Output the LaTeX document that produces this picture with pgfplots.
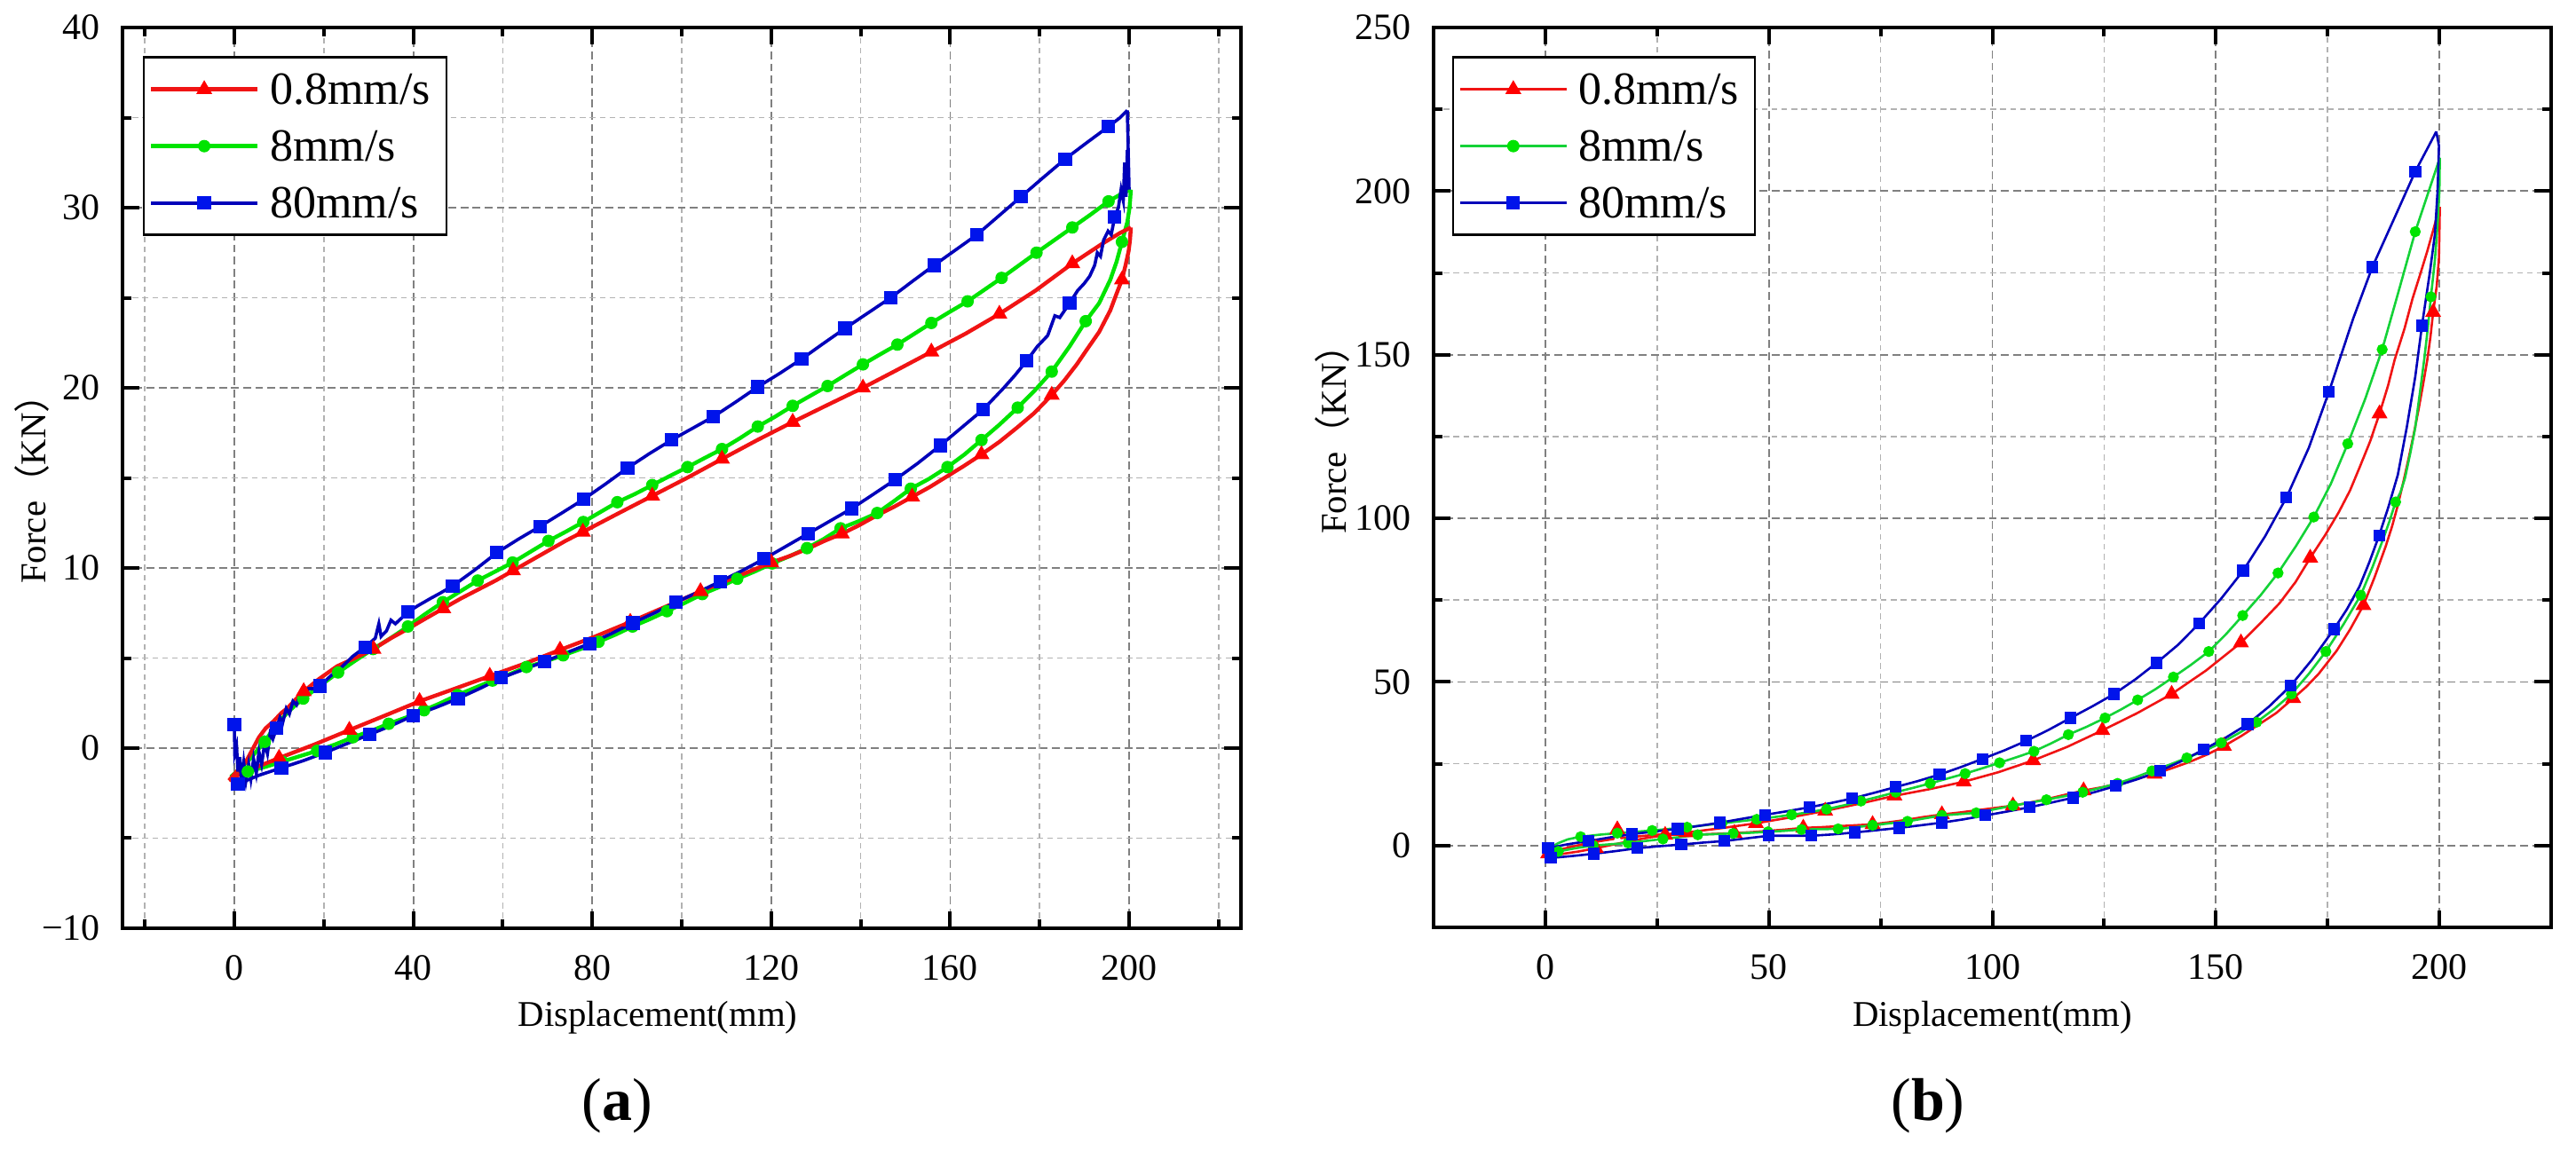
\documentclass[border=0pt]{standalone}
\usepackage{fontspec}
\setmainfont{Liberation Serif}
\newfontfamily\cjk{Noto Sans CJK SC}
\usepackage{pgfplots}
\pgfplotsset{compat=1.18}

\definecolor{cR}{RGB}{255,0,0}
\definecolor{cRl}{RGB}{240,20,20}
\definecolor{cG}{RGB}{0,228,0}
\definecolor{cGl}{RGB}{20,210,55}
\definecolor{cB}{RGB}{0,20,235}
\definecolor{cBl}{RGB}{0,0,185}

\pgfplotsset{
  panel/.style={
    scale only axis, anchor=south west,
    xmin=-25, xmax=225,
    axis line style={line width=1.1pt},
    every tick/.style={line width=1pt, black},
    major tick length=4.7pt, minor tick length=2.4pt,
    tick align=inside,
    grid=both,
    major grid style={dash pattern=on 2.2pt off 1.2pt, black!50, line width=0.45pt},
    minor grid style={dash pattern=on 1.6pt off 1.2pt, black!30, line width=0.4pt},
    tick label style={font=\fontsize{10.5}{12}\selectfont},
    xticklabel style={yshift=-4.2pt},
    yticklabel style={xshift=-2.75pt},
    label style={font=\fontsize{10.2}{12}\selectfont},
    ylabel={Force{\cjk （}KN{\cjk ）}},
    xlabel={Displacement(mm)},
    legend cell align=left,
    legend style={anchor=north west, draw=black, line width=0.6pt, fill=white,
      font=\fontsize{13}{15}\selectfont, inner xsep=1.5pt, inner ysep=1pt,
      row sep=0pt, column sep=0pt,
      nodes={inner xsep=3pt, inner ysep=0pt, text height=12.3pt, text depth=3.7pt}},
    legend image code/.code={\draw[mark repeat=2,mark phase=2,##1] plot coordinates {(0pt,0pt) (15pt,0pt) (30pt,0pt)};},
  },
  lRA/.style={cRl, line width=1.1pt, forget plot},
  lGA/.style={cG, line width=1.1pt, forget plot},
  lBA/.style={cBl, line width=0.9pt, forget plot},
  mRA/.style={only marks, mark=triangle*, mark size=2.3pt, cR, mark options={line width=0.3pt}, forget plot},
  mGA/.style={only marks, mark=*, mark size=1.6pt, cG, mark options={line width=0.3pt}, forget plot},
  mBA/.style={only marks, mark=square*, mark size=1.75pt, cB, mark options={line width=0.3pt}, forget plot},
  lRB/.style={cRl, line width=0.65pt, forget plot},
  lGB/.style={cGl, line width=0.65pt, forget plot},
  lBB/.style={cBl, line width=0.65pt, forget plot},
  mRB/.style={only marks, mark=triangle*, mark size=2.3pt, cR, mark options={line width=0.3pt}, forget plot},
  mGB/.style={only marks, mark=*, mark size=1.4pt, cG, mark options={line width=0.3pt}, forget plot},
  mBB/.style={only marks, mark=square*, mark size=1.5pt, cB, mark options={line width=0.3pt}, forget plot},
}

\begin{document}
\begin{tikzpicture}
\useasboundingbox (0,0) rectangle (725.5pt,324pt);

% ================= (a) =================
\begin{axis}[panel, at={(34.5pt,62.5pt)}, width=315pt, height=253.75pt,
  ymin=-10, ymax=40,
  xtick={0,40,80,120,160,200}, xticklabels={0,40,80,120,160,200},
  minor xtick={-20,20,60,100,140,180,220},
  ytick={-10,0,10,20,30,40}, yticklabels={−10,0,10,20,30,40},
  minor ytick={-5,5,15,25,35},
  xlabel style={at={(axis description cs:0.4786,-0.0995)}, anchor=center},
  ylabel style={at={(axis description cs:-0.081,0.4975)}, anchor=center},
  legend style={at={(axis description cs:0.018,0.968)}},
]
\addlegendimage{cRl, line width=1.1pt, mark=triangle*, mark size=2.3pt, mark options={cR, line width=0.3pt}}
\addlegendentry{0.8mm/s}
\addlegendimage{cG, line width=1.1pt, mark=*, mark size=1.6pt, mark options={cG, line width=0.3pt}}
\addlegendentry{8mm/s}
\addlegendimage{cBl, line width=1pt, mark=square*, mark size=1.75pt, mark options={cB, line width=0.3pt}}
\addlegendentry{80mm/s}

% green
\addplot[lGA] coordinates {(-0.8,-1.6) (1.5,-1.1) (3.5,-0.6) (5.2,-0.1) (6.8,0.35) (8.5,1.0) (10,1.45) (11.8,1.95) (13.5,2.35) (15.4,2.75) (19.1,3.45) (23.2,4.2) (27,4.85) (31,5.5) (34.9,6.1) (38.8,6.75) (42.7,7.45) (46.6,8.1) (50.5,8.7) (54.4,9.3) (58.3,9.8) (62.2,10.3) (66.2,10.9) (70.2,11.5) (74,12.0) (78,12.55) (81.8,13.1) (85.6,13.65) (89.5,14.1) (93.4,14.6) (97.3,15.1) (101.3,15.6) (105.1,16.1) (109,16.6) (113,17.2) (117,17.85) (120.9,18.4) (124.8,19.0) (128.7,19.55) (132.6,20.1) (136.5,20.7) (140.5,21.3) (144.3,21.85) (148.2,22.4) (152,23.0) (155.8,23.6) (159.8,24.2) (163.9,24.8) (167.7,25.45) (171.5,26.1) (175.4,26.8) (179.3,27.5) (183.3,28.2) (187.3,28.9) (191.3,29.6) (195.4,30.35) (198.5,30.8) (200.4,31.0)};
\addplot[mGA] coordinates {(6.8,0.35) (15.4,2.75) (23.2,4.2) (31,5.5) (38.8,6.75) (46.6,8.1) (54.4,9.3) (62.2,10.3) (70.2,11.5) (78,12.55) (85.6,13.65) (93.4,14.6) (101.3,15.6) (109,16.6) (117,17.85) (124.8,19.0) (132.6,20.1) (140.5,21.3) (148.2,22.4) (155.8,23.6) (163.9,24.8) (171.5,26.1) (179.3,27.5) (187.3,28.9) (195.4,30.35)};
\addplot[lGA] coordinates {(200.4,31.0) (200.1,30.0) (199.6,29.2) (198.4,28.1) (197.2,27.0) (195.8,26.0) (193.3,24.7) (190.3,23.7) (188.5,23.0) (186.7,22.3) (182.7,20.9) (178.9,19.85) (175.1,18.9) (171,17.95) (167,17.1) (163.2,16.3) (159.4,15.6) (155.3,14.95) (151.2,14.4) (147.4,13.7) (143.7,13.05) (139.6,12.6) (135.5,12.2) (131.7,11.6) (128,11.1) (124.1,10.65) (120.2,10.25) (116.3,9.8) (112.4,9.4) (108.5,8.95) (104.6,8.55) (100.6,8.05) (96.7,7.6) (92.8,7.15) (89,6.75) (85.2,6.3) (81.4,5.9) (77.4,5.5) (73.5,5.15) (69.4,4.8) (65.3,4.5) (61.5,4.1) (57.7,3.75) (53.8,3.35) (49.9,2.95) (46.1,2.5) (42.4,2.1) (38.4,1.7) (34.5,1.35) (30.5,0.95) (26.5,0.6) (22.5,0.2) (18.5,-0.15) (14.6,-0.45) (10.7,-0.75) (6.8,-1.05) (3,-1.3) (-0.8,-1.6)};
\addplot[mGA] coordinates {(198.4,28.1) (190.3,23.7) (182.7,20.9) (175.1,18.9) (167,17.1) (159.4,15.6) (151.2,14.4) (143.7,13.05) (135.5,12.2) (128,11.1) (120.2,10.25) (112.4,9.4) (104.6,8.55) (96.7,7.6) (89,6.75) (81.4,5.9) (73.5,5.15) (65.3,4.5) (57.7,3.75) (49.9,2.95) (42.4,2.1) (34.5,1.35) (26.5,0.6) (18.5,-0.15) (10.7,-0.75) (3,-1.3)};

% red
\addplot[lRA] coordinates {(-1.2,-1.8) (0.5,-1.3) (2.5,-0.8) (4,-0.1) (5.5,0.6) (7,1.1) (8.8,1.5) (10.5,1.95) (11.8,2.2) (13.5,2.65) (15.5,3.15) (19,3.85) (23,4.55) (27,5.0) (31.1,5.5) (35,6.1) (39,6.65) (42.8,7.2) (46.7,7.75) (50.6,8.3) (54.5,8.8) (58.4,9.3) (62.3,9.85) (66.2,10.4) (70.1,10.95) (74,11.5) (77.9,12.0) (85.6,13.0) (93.4,14.0) (101.2,15.0) (109,16.05) (116.9,17.1) (124.8,18.1) (132.6,19.05) (140.5,20.0) (148.2,21.0) (155.8,22.0) (163.4,23.0) (171,24.1) (179.1,25.4) (187.3,26.9) (194,28.0) (198,28.6) (200.4,28.9)};
\addplot[mRA] coordinates {(15.5,3.15) (31.1,5.5) (46.7,7.75) (62.3,9.85) (77.9,12.0) (93.4,14.0) (109,16.05) (124.8,18.1) (140.5,20.0) (155.8,22.0) (171,24.1) (187.3,26.9)};
\addplot[lRA] coordinates {(200.4,28.9) (200.2,28.2) (199.9,27.6) (199.2,26.8) (198.4,26.0) (197,25.1) (195.8,24.3) (193.3,23.1) (190.5,22.1) (188.3,21.3) (185.5,20.4) (182.7,19.6) (178.8,18.6) (175,17.8) (171,17.0) (167,16.3) (163,15.65) (159.4,15.1) (155.5,14.5) (151.5,13.95) (147.5,13.4) (143.5,12.9) (139.5,12.35) (135.8,11.9) (131.9,11.5) (128,11.05) (124,10.65) (120,10.3) (112.1,9.5) (104.2,8.7) (96.4,7.85) (88.5,7.0) (80.7,6.2) (72.8,5.45) (65,4.7) (57.1,4.0) (49.3,3.3) (41.4,2.6) (33.6,1.8) (25.7,1.0) (17.9,0.2) (10.0,-0.55) (6,-0.95) (2.3,-1.3) (-1.2,-1.8)};
\addplot[mRA] coordinates {(198.4,26.0) (182.7,19.6) (167,16.3) (151.5,13.95) (135.8,11.9) (120,10.3) (104.2,8.7) (88.5,7.0) (72.8,5.45) (57.1,4.0) (41.4,2.6) (25.7,1.0) (10.0,-0.55)};

% blue
\addplot[lBA] coordinates {(0,1.3) (0.1,-0.3) (0.5,0.1) (0.8,-1.3) (1.2,-0.5) (1.6,-1.9) (2.1,-0.8) (2.6,-1.8) (3.2,-0.9) (3.7,-1.7) (4.3,-0.6) (4.9,-1.4) (5.5,-0.2) (6.1,-0.9) (6.8,0.3) (7.4,-0.3) (8.0,0.8) (8.6,0.5) (9.4,1.1) (10.2,1.7) (10.8,1.4) (11.6,2.2) (12.3,1.9) (13.1,2.6) (13.9,2.4) (14.8,3.0) (15.7,2.8) (16.6,3.3) (17.8,3.3) (19.1,3.45) (21.5,4.0) (24,4.5) (26.5,5.1) (29.2,5.6) (31.5,6.1) (32.3,6.9) (32.8,6.2) (34,6.5) (35,7.1) (36,6.9) (38.8,7.55) (41,7.9) (43.8,8.3) (46,8.6) (48.8,9.0) (53.8,9.9) (58.7,10.85) (63.5,11.6) (68.3,12.3) (73.2,13.05) (78,13.8) (82.9,14.65) (87.9,15.55) (92.8,16.35) (97.7,17.1) (102.4,17.75) (107.1,18.4) (112,19.2) (117,20.05) (121.9,20.8) (126.8,21.6) (131.6,22.45) (136.5,23.3) (141.6,24.15) (146.7,25.0) (151.5,25.9) (156.4,26.8) (161.2,27.65) (166,28.5) (170.9,29.55) (175.8,30.6) (180.7,31.65) (185.7,32.7) (190.5,33.6) (195.4,34.5) (198,35.0) (199.6,35.4)};
\addplot[mBA] coordinates {(0,1.3) (9.4,1.1) (19.1,3.45) (29.2,5.6) (38.8,7.55) (48.8,9.0) (58.7,10.85) (68.3,12.3) (78,13.8) (87.9,15.55) (97.7,17.1) (107.1,18.4) (117,20.05) (126.8,21.6) (136.5,23.3) (146.7,25.0) (156.4,26.8) (166,28.5) (175.8,30.6) (185.7,32.7) (195.4,34.5)};
\addplot[lBA] coordinates {(199.6,35.4) (200.0,31.0) (199.6,33.2) (199.3,30.6) (199.0,32.5) (198.7,30.4) (198.2,31.0) (197.6,30.0) (196.8,29.5) (196.0,28.5) (195.3,28.7) (194.3,28.2) (193.6,27.3) (192.9,27.5) (192.3,26.8) (191.2,26.2) (190,25.8) (188.5,25.4) (186.7,24.7) (184.5,23.9) (183.4,24.0) (181.8,22.9) (179.5,22.3) (177.1,21.5) (174.5,20.7) (172,20.0) (169.7,19.4) (167.4,18.8) (162.6,17.8) (157.8,16.8) (152.7,15.8) (147.7,14.9) (142.9,14.1) (138,13.3) (133.1,12.6) (128.2,11.9) (123.3,11.2) (118.4,10.5) (113.5,9.85) (108.6,9.25) (103.6,8.65) (98.7,8.1) (93.9,7.5) (89.1,6.95) (84.2,6.35) (79.4,5.8) (74.3,5.3) (69.3,4.8) (64.5,4.35) (59.7,3.9) (54.8,3.3) (50,2.75) (45,2.25) (40,1.8) (35.1,1.25) (30.2,0.75) (25.2,0.25) (20.3,-0.25) (15.4,-0.7) (10.5,-1.1) (5.6,-1.5) (0.8,-2.0)};
\addplot[mBA] coordinates {(196.8,29.5) (186.7,24.7) (177.1,21.5) (167.4,18.8) (157.8,16.8) (147.7,14.9) (138,13.3) (128.2,11.9) (118.4,10.5) (108.6,9.25) (98.7,8.1) (89.1,6.95) (79.4,5.8) (69.3,4.8) (59.7,3.9) (50,2.75) (40,1.8) (30.2,0.75) (20.3,-0.25) (10.5,-1.1) (0.8,-2.0)};
\end{axis}

% ================= (b) =================
\begin{axis}[panel, at={(403.75pt,62.75pt)}, width=314.75pt, height=253.5pt,
  ymin=-25, ymax=250,
  xtick={0,50,100,150,200}, xticklabels={0,50,100,150,200},
  minor xtick={25,75,125,175},
  ytick={0,50,100,150,200,250}, yticklabels={0,50,100,150,200,250},
  minor ytick={25,75,125,175,225},
  xlabel style={at={(axis description cs:0.5,-0.1006)}, anchor=center},
  ylabel style={at={(axis description cs:-0.0905,0.552)}, anchor=center},
  legend style={at={(axis description cs:0.0167,0.968)}},
]
\addlegendimage{cRl, line width=0.8pt, mark=triangle*, mark size=2.3pt, mark options={cR, line width=0.3pt}}
\addlegendentry{0.8mm/s}
\addlegendimage{cGl, line width=0.8pt, mark=*, mark size=1.6pt, mark options={cG, line width=0.3pt}}
\addlegendentry{8mm/s}
\addlegendimage{cBl, line width=0.8pt, mark=square*, mark size=1.75pt, mark options={cB, line width=0.3pt}}
\addlegendentry{80mm/s}

% red
\addplot[lRB] coordinates {(0,-3.0) (0.6,-2.5) (4,-1.0) (8,0.3) (12,1.3) (15.2,2.0) (16.1,4.9) (17,2.3) (20,2.7) (24,3.2) (28,3.6) (31.6,4.0) (39.3,5.3) (47.1,6.8) (54.8,8.6) (62.6,10.6) (70.3,12.8) (78.1,15.2) (85.8,17.2) (93.6,19.5) (101.3,22.4) (109.1,26.0) (116.8,30.2) (124.6,35.2) (132.3,40.4) (140.1,46.3) (147.8,53.5) (155.6,62.0) (160,68.0) (164.2,74.0) (167.8,80.5) (171.1,87.9) (174.5,95.0) (177.5,101.9) (180,108.5) (182.1,115.4) (184.5,123.5) (186.6,132.0) (188.5,140.5) (190,148.5) (192.2,158.0) (194,167.2) (195.8,175.0) (197.3,181.7) (198.6,188.0) (199.5,192.5) (200.1,195.2)};
\addplot[mRB] coordinates {(0.6,-2.5) (16.1,4.9) (31.6,4.0) (47.1,6.8) (62.6,10.6) (78.1,15.2) (93.6,19.5) (109.1,26.0) (124.6,35.2) (140.1,46.3) (155.6,62.0) (171.1,87.9) (186.6,132.0)};
\addplot[lRB] coordinates {(200.1,195.2) (200.0,187.0) (199.9,179.6) (199.4,171.0) (198.6,163.0) (198.0,155.5) (197.3,148.5) (196.3,140.5) (195.3,133.0) (194.3,126.0) (193.3,119.5) (192.0,111.5) (190.7,104.0) (189.4,97.5) (188.0,91.5) (185.5,82.0) (183.0,73.4) (180.0,66.0) (177.0,59.5) (173.0,52.5) (170.2,48.5) (167.3,45.0) (163.5,40.5) (159.6,37.0) (155.7,33.5) (151.8,30.4) (148,27.8) (144,25.5) (140.1,23.6) (136.3,21.9) (132.4,20.4) (128.4,19.0) (124.4,17.8) (120.4,16.8) (116.5,15.6) (112.5,14.3) (108.6,13.2) (104.6,12.2) (100.6,11.5) (96.6,10.8) (92.7,10.1) (88.7,9.5) (84.5,8.7) (80.5,7.8) (76.8,7.1) (73.2,6.5) (69.3,6.2) (65.3,5.9) (61.5,5.6) (57.7,5.4) (53.8,4.9) (50,4.5) (46.1,4.1) (42.3,3.8) (38.5,3.6) (34.6,3.4) (30.7,3.3) (26.8,3.2) (23,2.4) (19,1.4) (15.2,0.3) (11.3,-0.8) (7.5,-1.8) (3.6,-2.6) (0,-3.0)};
\addplot[mRB] coordinates {(198.6,163.0) (183.0,73.4) (167.3,45.0) (151.8,30.4) (136.3,21.9) (120.4,16.8) (104.6,12.2) (88.7,9.5) (73.2,6.5) (57.7,5.4) (42.3,3.8) (26.8,3.2) (11.3,-0.8)};

% green
\addplot[lGB] coordinates {(0,-1.8) (0.5,-1.0) (3,0.8) (5,1.9) (7.9,2.7) (12,3.3) (16.1,3.8) (20,4.2) (23.9,4.6) (27.8,5.1) (31.7,5.6) (35.6,6.2) (39.5,6.8) (43.4,7.4) (47.3,8.0) (51.2,8.7) (55.1,9.4) (59,10.2) (62.9,11.1) (66.8,12.3) (70.6,13.6) (74.5,14.9) (78.4,16.3) (82.2,17.6) (86.1,19.0) (90,20.5) (93.9,22.0) (97.7,23.6) (101.6,25.3) (105.4,27.0) (109.3,28.8) (113.1,31.2) (117,33.9) (121.1,36.3) (125.2,39.0) (128.8,41.6) (132.5,44.5) (136.5,47.8) (140.5,51.5) (144.4,55.2) (148.4,59.3) (152.2,64.5) (156,70.3) (160,76.5) (163.9,83.3) (167.9,91.5) (171.9,100.4) (175.7,110.5) (179.5,122.8) (183.4,136.5) (187.2,151.6) (190.9,169.5) (194.6,187.6) (197.5,199.5) (200.1,210.2)};
\addplot[mGB] coordinates {(0.5,-1.0) (7.9,2.7) (16.1,3.8) (23.9,4.6) (31.7,5.6) (39.5,6.8) (47.3,8.0) (55.1,9.4) (62.9,11.1) (70.6,13.6) (78.4,16.3) (86.1,19.0) (93.9,22.0) (101.6,25.3) (109.3,28.8) (117,33.9) (125.2,39.0) (132.5,44.5) (140.5,51.5) (148.4,59.3) (156,70.3) (163.9,83.3) (171.9,100.4) (179.5,122.8) (187.2,151.6) (194.6,187.6)};
\addplot[lGB] coordinates {(200.1,210.2) (200.0,200.0) (199.6,190.0) (199.0,179.0) (198.1,167.7) (197.4,158.0) (196.6,148.5) (195.6,138.0) (194.6,127.8) (193.5,120.0) (192.3,112.3) (191.3,108.0) (190.2,105.0) (188.8,99.0) (187.4,93.6) (185,85.0) (182.4,76.5) (178.5,67.5) (174.6,59.3) (170.8,52.5) (166.9,46.3) (163,41.7) (159.1,37.7) (155.2,34.4) (151.2,31.4) (147.4,28.9) (143.5,26.8) (139.6,24.7) (135.7,22.8) (131.9,20.8) (128,19.0) (124.1,17.6) (120.2,16.3) (116.2,15.1) (112.1,14.0) (108.4,13.1) (104.6,12.2) (100.5,11.1) (96.4,10.0) (92.5,9.6) (88.7,9.2) (84.8,8.3) (81,7.4) (77.1,6.8) (73.2,6.2) (69.3,5.6) (65.5,5.1) (61.4,5.0) (57.3,4.9) (53.5,4.5) (49.8,4.2) (45.9,3.9) (42,3.7) (38,3.5) (34.1,3.3) (30.2,2.6) (26.3,2.0) (22.4,1.4) (18.5,0.8) (14.6,0.4) (10.7,0.0) (6.8,-0.8) (2.9,-1.8) (0,-2.2)};
\addplot[mGB] coordinates {(198.1,167.7) (190.2,105.0) (182.4,76.5) (174.6,59.3) (166.9,46.3) (159.1,37.7) (151.2,31.4) (143.5,26.8) (135.7,22.8) (128,19.0) (120.2,16.3) (112.1,14.0) (104.6,12.2) (96.4,10.0) (88.7,9.2) (81,7.4) (73.2,6.2) (65.5,5.1) (57.3,4.9) (49.8,4.2) (42,3.7) (34.1,3.3) (26.3,2.0) (18.5,0.8) (10.7,0.0) (2.9,-1.8)};

% blue
\addplot[lBB] coordinates {(0.3,-3.8) (0.6,-0.8) (5,0.4) (9.7,1.4) (14.5,2.5) (19.4,3.5) (24.5,4.3) (29.6,5.1) (34.3,6.0) (39.1,7.0) (44.1,8.2) (49.2,9.4) (54.1,10.5) (59.1,11.7) (63.9,13.0) (68.7,14.4) (73.5,16.1) (78.4,17.9) (83.3,19.7) (88.2,21.7) (93,24.0) (97.8,26.5) (102.7,29.1) (107.6,32.0) (112.5,35.3) (117.5,39.0) (122.3,42.5) (127.2,46.3) (132,50.8) (136.7,55.8) (141.5,61.3) (146.2,67.8) (151.2,75.5) (156.1,84.0) (161,94.5) (165.8,106.4) (170.8,121.6) (175.3,138.7) (180.7,161.0) (185.0,176.8) (190.7,194.1) (194.6,206.0) (197.5,213.5) (199.3,218.2)};
\addplot[mBB] coordinates {(0.6,-0.8) (9.7,1.4) (19.4,3.5) (29.6,5.1) (39.1,7.0) (49.2,9.4) (59.1,11.7) (68.7,14.4) (78.4,17.9) (88.2,21.7) (97.8,26.5) (107.6,32.0) (117.5,39.0) (127.2,46.3) (136.7,55.8) (146.2,67.8) (156.1,84.0) (165.8,106.4) (175.3,138.7) (185.0,176.8) (194.6,206.0)};
\addplot[lBB] coordinates {(199.3,218.2) (199.9,213.8) (199.6,200.3) (199.0,186.9) (197.9,175.5) (196.1,158.9) (194.6,143.3) (192.7,127.8) (190.7,113.3) (188.6,103.5) (186.5,94.7) (184.3,86.5) (182.1,79.1) (179.3,72.2) (176.4,66.1) (171.5,56.8) (166.7,48.8) (161.9,42.5) (157.1,37.1) (152.1,32.9) (147.2,29.3) (142.3,25.8) (137.5,22.8) (132.5,20.3) (127.6,18.2) (122.8,16.3) (118,14.6) (113.1,13.1) (108.3,11.7) (103.3,10.4) (98.4,9.2) (93.5,8.0) (88.7,7.0) (84,6.2) (79.2,5.4) (74.2,4.7) (69.2,4.0) (64.3,3.4) (59.5,3.0) (54.7,3.0) (50,3.0) (45,2.2) (40.1,1.4) (35.2,0.9) (30.4,0.3) (25.5,-0.2) (20.6,-0.8) (15.7,-1.7) (10.9,-2.5) (6,-3.2) (1.2,-3.8) (0.3,-3.8)};
\addplot[mBB] coordinates {(196.1,158.9) (186.5,94.7) (176.4,66.1) (166.7,48.8) (157.1,37.1) (147.2,29.3) (137.5,22.8) (127.6,18.2) (118,14.6) (108.3,11.7) (98.4,9.2) (88.7,7.0) (79.2,5.4) (69.2,4.0) (59.5,3.0) (50,3.0) (40.1,1.4) (30.4,0.3) (20.6,-0.8) (10.9,-2.5) (1.2,-3.8)};
\end{axis}

\node[font=\fontsize{17}{20}\selectfont] at (173.75pt,12.5pt) {(\textbf{a})};
\node[font=\fontsize{17}{20}\selectfont] at (543pt,12.5pt) {(\textbf{b})};
\end{tikzpicture}
\end{document}
